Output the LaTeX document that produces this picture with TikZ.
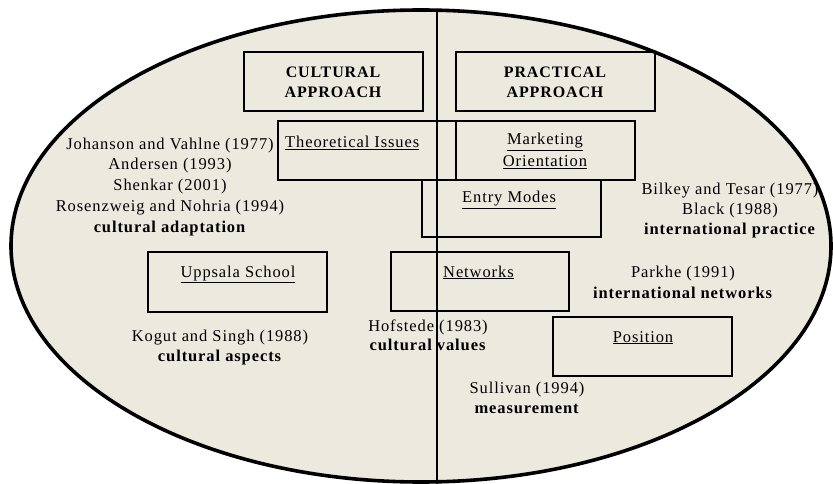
\documentclass[tikz,border=0pt]{standalone}
\usepackage{fontspec}
\newfontfamily\tf{Liberation Serif}[LetterSpace=5.5]
\definecolor{bgbeige}{RGB}{236,233,223}
\newcommand\ulx[1]{\underline{#1}}
\begin{document}
\begin{tikzpicture}[x=1pt,y=-1pt,
  ellst/.style={draw=black, line width=3.6pt, fill=bgbeige},
  boxst/.style={draw=black, line width=1.3pt, inner sep=0pt},
  divst/.style={draw=black, line width=1.3pt},
  txt/.style={font=\tf\fontsize{16.5}{20.7}\selectfont, align=center, anchor=base, inner sep=0pt},
  head/.style={txt, font=\tf\bfseries\fontsize{16}{20}\selectfont},
]
\useasboundingbox (0,0) rectangle (833,484);
\clip (0,0) rectangle (833,484);
\fill[white] (0,0) rectangle (833,484);
\draw[ellst] (421,246) ellipse [x radius=410pt, y radius=236pt];

% boxes
\node[boxst, minimum width=179pt, minimum height=59pt] (cult) at (333.5,81.5) {};
\node[boxst, minimum width=199pt, minimum height=59pt] (prac) at (555.5,81.5) {};
\node[boxst, minimum width=178pt, minimum height=59pt] (theo) at (367,150.5) {};
\node[boxst, minimum width=179pt, minimum height=59pt] (mark) at (545.5,150.5) {};
\node[boxst, minimum width=179pt, minimum height=57pt] (entry) at (511.5,208.5) {};
\node[boxst, minimum width=179pt, minimum height=60pt] (upps) at (237.5,282) {};
\node[boxst, minimum width=178pt, minimum height=59pt] (netw) at (480,281.5) {};
\node[boxst, minimum width=179pt, minimum height=59pt] (posi) at (642.5,346.5) {};

% box texts (base = baseline of last line)
\node[head] (cultt) at (333,98) {CULTURAL\\APPROACH};
\node[head] (pract) at (555,98) {PRACTICAL\\APPROACH};
\node[txt, anchor=base west] (theot) at (285,148) {\ulx{Theoretical Issues}};
\node[txt, font=\tf\fontsize{16.5}{22}\selectfont] (markt) at (545,167) {\ulx{Marketing}\\\ulx{Orientation}};
\node[txt, anchor=base west] (entryt) at (462,203) {\ulx{Entry Modes}};
\node[txt] (uppst) at (238,277) {\ulx{Uppsala School}};
\node[txt, anchor=base west] (netwt) at (443,277) {\ulx{Networks}};
\node[txt] (posit) at (643,342) {\ulx{Position}};

% citations
\node[txt] (leftc) at (170,232) {Johanson and Vahlne (1977)\\Andersen (1993)\\Shenkar (2001)\\Rosenzweig and Nohria (1994)\\\textbf{cultural adaptation}};
\node[txt, font=\tf\fontsize{16.5}{20}\selectfont] (rightc) at (730,234) {Bilkey and Tesar (1977)\\Black (1988)\\\textbf{international practice}};
\node[txt, font=\tf\fontsize{16.5}{21}\selectfont] (parkc) at (683,298) {Parkhe (1991)\\\textbf{international networks}};
\node[txt, font=\tf\fontsize{16.5}{20}\selectfont] (kogc) at (220,361) {Kogut and Singh (1988)\\\textbf{cultural aspects}};
\node[txt, font=\tf\fontsize{16.5}{19}\selectfont] (hofc) at (428,350) {Hofstede (1983)\\\textbf{cultural values}};
\node[txt, font=\tf\fontsize{16.5}{20}\selectfont] (sulc) at (527,413) {Sullivan (1994)\\\textbf{measurement}};

% divider
\coordinate (vtop) at (437,11);
\coordinate (vbot) at (437,484);
\draw[divst] (vtop) -- (vbot);
\end{tikzpicture}
\end{document}
